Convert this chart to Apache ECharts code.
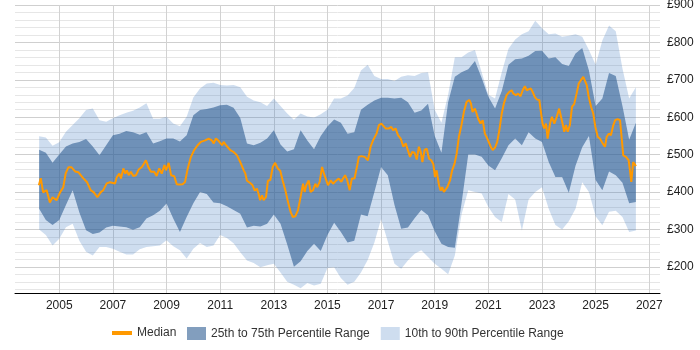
<!DOCTYPE html>
<html>
<head>
<meta charset="utf-8">
<script src="https://cdn.jsdelivr.net/npm/echarts@6/dist/echarts.min.js"></script>
<style>
  html, body { margin: 0; padding: 0; background: #fff; }
  #chart { width: 700px; height: 350px; }
</style>
</head>
<body>
<div id="chart"></div>
<script>
// tick labels on the x axis (odd years)
const yearTicks = [2005, 2007, 2009, 2011, 2013, 2015, 2017, 2019, 2021, 2023, 2025, 2027];

// quarterly dates for the percentile bands
const bandYears = [
  2004.25, 2004.5, 2004.75, 2005, 2005.25, 2005.5, 2005.75, 2006, 2006.25, 2006.5,
  2006.75, 2007, 2007.25, 2007.5, 2007.75, 2008, 2008.25, 2008.5, 2008.75, 2009,
  2009.25, 2009.5, 2009.75, 2010, 2010.25, 2010.5, 2010.75, 2011, 2011.25, 2011.5,
  2011.75, 2012, 2012.25, 2012.5, 2012.75, 2013, 2013.25, 2013.5, 2013.75, 2014,
  2014.25, 2014.5, 2014.75, 2015, 2015.25, 2015.5, 2015.75, 2016, 2016.25, 2016.5,
  2016.75, 2017, 2017.25, 2017.5, 2017.75, 2018, 2018.25, 2018.5, 2018.75, 2019,
  2019.25, 2019.5, 2019.75, 2020, 2020.25, 2020.5, 2020.75, 2021, 2021.25, 2021.5,
  2021.75, 2022, 2022.25, 2022.5, 2022.75, 2023, 2023.25, 2023.5, 2023.75, 2024,
  2024.25, 2024.5, 2024.75, 2025, 2025.25, 2025.5, 2025.75, 2026, 2026.25, 2026.5
];

const p90 = [
  549, 546, 524, 533, 561, 579, 597, 619, 623, 592,
  588, 597, 605, 612, 617, 626, 637, 596, 596, 601,
  583, 576, 601, 653, 677, 690, 692, 686, 685, 686,
  680, 655, 645, 640, 630, 650, 630, 610, 593, 610,
  602, 599, 608, 620, 650, 650, 658, 678, 725, 740,
  710, 702, 702, 697, 708, 712, 710, 718, 720, 620,
  585, 660, 760, 760, 773, 780, 720, 660, 650, 720,
  783, 808, 822, 830, 858, 838, 822, 824, 815, 818,
  822, 815, 780, 740, 805, 845, 830, 730, 650, 680
];
const p75 = [
  513, 505, 478, 500, 522, 530, 534, 542, 522, 498,
  525, 552, 556, 563, 560, 553, 560, 530, 536, 543,
  543, 535, 552, 605, 619, 622, 626, 632, 633, 625,
  598, 530, 525, 532, 543, 565, 527, 508, 514, 565,
  538, 514, 550, 575, 594, 585, 556, 560, 620, 633,
  645, 652, 652, 650, 652, 640, 612, 618, 636, 550,
  505, 640, 708, 720, 728, 750, 705, 655, 623, 670,
  740, 755, 757, 764, 777, 778, 757, 760, 742, 737,
  770, 785, 725, 630, 650, 718, 710, 630, 540, 585
];
const p25 = [
  355, 325, 312, 325, 365, 405, 345, 298, 288, 292,
  305, 310, 308, 306, 299, 306, 329, 338, 350, 369,
  329, 293, 333, 370, 400, 395, 372, 370, 362, 352,
  342, 305, 310, 308, 315, 340, 315, 260, 200, 215,
  242, 262, 242, 285, 318, 293, 265, 270, 340, 335,
  400, 467, 445, 365, 302, 305, 330, 352, 338, 295,
  262, 253, 251, 370, 500, 500, 494, 471, 458, 490,
  525, 543, 525, 560, 543, 534, 480, 440, 440, 398,
  470, 520, 550, 432, 405, 455, 445, 425, 370, 373
];
const p10 = [
  300, 285, 257, 275, 306, 315, 270, 240, 230, 253,
  253, 248, 240, 233, 233, 247, 253, 255, 257, 271,
  255, 244, 222, 248, 264, 253, 257, 285, 277, 263,
  239, 217, 210, 199, 204, 208, 185, 160, 152, 143,
  157, 150, 155, 197, 199, 170, 152, 160, 185, 218,
  265, 328, 268, 208, 195, 217, 235, 244, 226, 208,
  195, 180, 230, 340, 405, 400, 396, 360, 333, 320,
  395, 380, 297, 380, 400, 413, 355, 312, 300, 322,
  355, 426, 400, 335, 311, 347, 350, 333, 293, 297
];

const medianYears = [
  2004.24, 2004.31, 2004.40, 2004.53, 2004.65, 2004.75, 2004.90, 2005.03, 2005.15, 2005.24,
  2005.34, 2005.46, 2005.59, 2005.71, 2005.89, 2006.04, 2006.17, 2006.29, 2006.42, 2006.54,
  2006.64, 2006.77, 2006.89, 2006.96, 2007.08, 2007.14, 2007.24, 2007.30, 2007.39, 2007.46,
  2007.52, 2007.59, 2007.67, 2007.76, 2007.86, 2007.96, 2008.08, 2008.16, 2008.23, 2008.32,
  2008.42, 2008.54, 2008.63, 2008.73, 2008.82, 2008.92, 2008.98, 2009.08, 2009.17, 2009.29,
  2009.38, 2009.47, 2009.60, 2009.69, 2009.79, 2009.91, 2010.03, 2010.16, 2010.28, 2010.44,
  2010.57, 2010.69, 2010.76, 2010.84, 2010.94, 2011.00, 2011.07, 2011.13, 2011.22, 2011.29,
  2011.38, 2011.50, 2011.63, 2011.75, 2011.88, 2011.94, 2012.00, 2012.12, 2012.21, 2012.29,
  2012.37, 2012.43, 2012.49, 2012.56, 2012.62, 2012.71, 2012.78, 2012.87, 2012.96, 2013.05,
  2013.15, 2013.24, 2013.33, 2013.43, 2013.53, 2013.63, 2013.71, 2013.80, 2013.90, 2014.00,
  2014.09, 2014.15, 2014.21, 2014.30, 2014.37, 2014.46, 2014.55, 2014.62, 2014.71, 2014.80,
  2014.87, 2014.96, 2015.02, 2015.12, 2015.21, 2015.33, 2015.42, 2015.52, 2015.58, 2015.66,
  2015.74, 2015.83, 2015.91, 2016.01, 2016.11, 2016.17, 2016.26, 2016.39, 2016.51, 2016.61,
  2016.70, 2016.83, 2016.92, 2017.01, 2017.08, 2017.17, 2017.29, 2017.38, 2017.45, 2017.54,
  2017.63, 2017.73, 2017.83, 2017.92, 2017.98, 2018.08, 2018.16, 2018.25, 2018.33, 2018.41,
  2018.48, 2018.54, 2018.62, 2018.70, 2018.79, 2018.87, 2018.95, 2019.01, 2019.07, 2019.16,
  2019.22, 2019.28, 2019.34, 2019.41, 2019.47, 2019.57, 2019.65, 2019.74, 2019.82, 2019.90,
  2020.00, 2020.09, 2020.19, 2020.29, 2020.35, 2020.41, 2020.50, 2020.56, 2020.62, 2020.71,
  2020.79, 2020.87, 2020.96, 2021.03, 2021.09, 2021.16, 2021.25, 2021.33, 2021.41, 2021.50,
  2021.58, 2021.68, 2021.78, 2021.87, 2021.93, 2022.03, 2022.11, 2022.20, 2022.28, 2022.36,
  2022.43, 2022.49, 2022.58, 2022.65, 2022.74, 2022.82, 2022.90, 2022.95, 2023.02, 2023.08,
  2023.15, 2023.21, 2023.30, 2023.37, 2023.46, 2023.55, 2023.64, 2023.74, 2023.83, 2023.89,
  2023.96, 2024.04, 2024.12, 2024.20, 2024.29, 2024.37, 2024.45, 2024.54, 2024.61, 2024.67,
  2024.74, 2024.83, 2024.91, 2024.99, 2025.08, 2025.16, 2025.26, 2025.35, 2025.41, 2025.49,
  2025.57, 2025.66, 2025.73, 2025.82, 2025.91, 2025.98, 2026.03, 2026.13, 2026.23, 2026.28,
  2026.33, 2026.40, 2026.48, 2026.50
];
const medianValues = [
  418, 437, 399, 405, 372, 386, 378, 399, 413, 450,
  466, 466, 455, 453, 437, 426, 405, 399, 386, 399,
  405, 423, 426, 431, 423, 439, 449, 436, 463, 449,
  458, 445, 454, 443, 445, 460, 467, 476, 485, 467,
  454, 454, 443, 463, 449, 472, 458, 478, 445, 442,
  421, 420, 421, 427, 463, 494, 512, 525, 534, 538,
  543, 538, 530, 543, 537, 538, 525, 534, 525, 530,
  512, 507, 498, 480, 458, 449, 430, 424, 418, 404,
  409, 396, 378, 391, 378, 387, 430, 432, 467, 478,
  463, 457, 431, 405, 373, 346, 333, 335, 351, 387,
  422, 400, 418, 431, 400, 405, 422, 413, 427, 467,
  449, 431, 418, 431, 422, 431, 436, 427, 436, 445,
  431, 405, 436, 436, 471, 494, 496, 494, 485, 521,
  538, 556, 579, 583, 588, 570, 570, 574, 565, 570,
  552, 543, 521, 530, 516, 494, 507, 505, 487, 521,
  507, 480, 512, 516, 489, 485, 474, 440, 458, 418,
  404, 413, 400, 396, 413, 431, 458, 476, 503, 547,
  580, 615, 641, 646, 637, 614, 623, 610, 596, 583,
  592, 556, 543, 538, 521, 512, 519, 534, 565, 610,
  637, 659, 668, 672, 663, 659, 663, 656, 672, 683,
  672, 677, 677, 668, 653, 647, 646, 619, 583, 570,
  583, 543, 583, 601, 583, 601, 623, 592, 561, 579,
  561, 579, 628, 635, 663, 690, 699, 708, 713, 686,
  655, 628, 610, 574, 547, 543, 530, 521, 547, 556,
  552, 579, 592, 595, 592, 592, 498, 494, 485, 458,
  427, 480, 472, 469
];

const FONT = "'Liberation Sans', Arial, sans-serif";
const LIGHT = "rgba(60,120,190,0.25)";
const DARK = "rgba(46,94,146,0.6)";
const ORANGE = "#FF9900";

// value first, year second: echarts stacks the first numeric dimension,
// so the y value has to come first when both axes are numeric
function bandRows(values) {
  return values.map((v, i) => [v, bandYears[i]]);
}
function spread(hi, lo) {
  return hi.map((v, i) => v - lo[i]);
}

function rangeChart() {
  var myChart = echarts.init(document.getElementById("chart"));

  // minor lines every 20, darker ones every 100 (ticks run from 130 in steps of 10)
  const gridColors = ["transparent", "#e6e6e6", "transparent", "#e6e6e6", "transparent",
    "#e6e6e6", "transparent", "#cfcfcf", "transparent", "#e6e6e6"];

  const bandLine = { width: 0 };
  const bandEncode = { x: 1, y: 0 };
  const legendText = { fontSize: 12, color: "#333", fontFamily: FONT };

  let option = {
    animation: false,
    textStyle: { fontFamily: FONT },
    grid: { left: 15, right: 40, top: 5, bottom: 57, outerBoundsMode: "none" },
    legend: [
      {
        data: [{ name: "Median", icon: "rect", itemStyle: { color: ORANGE, borderWidth: 0 } }],
        left: 107,
        top: 322,
        itemWidth: 20,
        itemHeight: 4,
        selectedMode: false,
        textStyle: legendText,
      },
      {
        data: [
          { name: "25th to 75th Percentile Range", icon: "rect", itemStyle: { color: DARK, borderWidth: 0 } },
          { name: "10th to 90th Percentile Range", icon: "rect", itemStyle: { color: LIGHT, borderWidth: 0 } },
        ],
        left: 182,
        top: 322,
        itemWidth: 19,
        itemHeight: 13,
        itemGap: 11,
        selectedMode: false,
        textStyle: legendText,
      },
    ],
    xAxis: {
      type: "value",
      min: 2003.35,
      max: 2027.4,
      axisLine: { lineStyle: { color: "#000", width: 1 } },
      axisTick: { show: false, customValues: yearTicks },
      axisLabel: {
        customValues: yearTicks,
        margin: 7,
        fontSize: 12,
        color: "#222",
        fontFamily: FONT,
        formatter: (v) => String(v),
      },
      splitLine: { show: true, lineStyle: { color: "#d2d2d2" } },
    },
    yAxis: {
      type: "value",
      position: "right",
      min: 130,
      max: 900,
      interval: 10,
      axisLine: { show: false },
      axisTick: { show: false },
      axisLabel: {
        margin: 7,
        fontSize: 12,
        color: "#222",
        fontFamily: FONT,
        formatter: (v) => (v % 100 === 0 ? "£" + v : ""),
      },
      splitLine: { lineStyle: { color: gridColors, width: 1 } },
    },
    series: [
      {
        name: "p10",
        type: "line",
        stack: "outer",
        symbol: "none",
        silent: true,
        lineStyle: bandLine,
        encode: bandEncode,
        data: bandRows(p10),
      },
      {
        name: "10th to 90th Percentile Range",
        type: "line",
        stack: "outer",
        symbol: "none",
        silent: true,
        color: LIGHT,
        lineStyle: bandLine,
        areaStyle: { color: LIGHT, opacity: 1 },
        encode: bandEncode,
        data: bandRows(spread(p90, p10)),
      },
      {
        name: "p25",
        type: "line",
        stack: "inner",
        symbol: "none",
        silent: true,
        lineStyle: bandLine,
        encode: bandEncode,
        data: bandRows(p25),
      },
      {
        name: "25th to 75th Percentile Range",
        type: "line",
        stack: "inner",
        symbol: "none",
        silent: true,
        color: DARK,
        lineStyle: bandLine,
        areaStyle: { color: DARK, opacity: 1 },
        encode: bandEncode,
        data: bandRows(spread(p75, p25)),
      },
      {
        name: "Median",
        type: "line",
        symbol: "none",
        color: ORANGE,
        lineStyle: { color: ORANGE, width: 2 },
        data: medianYears.map((x, i) => [x, medianValues[i]]),
      },
    ],
  };

  myChart.setOption(option);
  return myChart;
}

rangeChart();
</script>
</body>
</html>
